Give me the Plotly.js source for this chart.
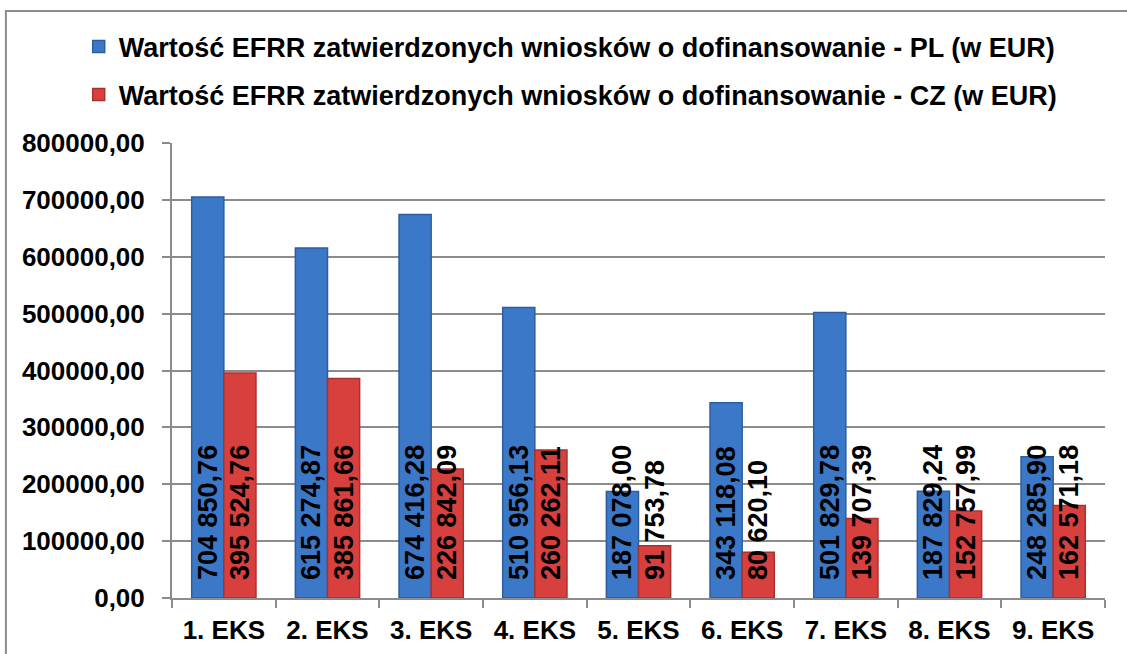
<!DOCTYPE html>
<html>
<head>
<meta charset="utf-8">
<script src="https://cdn.plot.ly/plotly-3.0.1.min.js"></script>
<style>html,body{margin:0;padding:0;background:#fff;} #chart{width:1127px;height:654px;}</style>
</head>
<body>
<div id="chart"></div>
<script>
const categories = ["1. EKS","2. EKS","3. EKS","4. EKS","5. EKS","6. EKS","7. EKS","8. EKS","9. EKS"];
const plValues = [704850.76, 615274.87, 674416.28, 510956.13, 187078.00, 343118.08, 501829.78, 187829.24, 248285.90];
const czValues = [395524.76, 385861.66, 226842.09, 260262.11, 91753.78, 80620.10, 139707.39, 152757.99, 162571.18];
const seriesNames = [
  "Wartość EFRR zatwierdzonych wniosków o dofinansowanie - PL (w EUR)",
  "Wartość EFRR zatwierdzonych wniosków o dofinansowanie - CZ (w EUR)"
];
const yTicks = [0,100000,200000,300000,400000,500000,600000,700000,800000];

const FONT = "Liberation Sans, Arial, sans-serif";
function barTrace(vals, name, color, line, group){
  return {
    type: "bar", x: categories, y: vals, name: name, legendgroup: group,
    marker: {color: color, line: {color: line, width: 1.5}},
    texttemplate: "\u00a0\u00a0%{y:,.2f}", textposition: "inside", insidetextanchor: "start",
    textangle: -90, constraintext: "none",
    textfont: {family: FONT, size: 27, color: "#000", weight: "bold"},
    hoverinfo: "skip"
  };
}
const data = [
  barTrace(plValues, seriesNames[0], "#3C78C8", "#2C5E9E", "g1"),
  barTrace(czValues, seriesNames[1], "#D8403E", "#A83230", "g2")
];
const layout = {
  width: 1127, height: 654,
  margin: {l: 172, r: 22, t: 143, b: 56},
  paper_bgcolor: "#fff", plot_bgcolor: "#fff",
  separators: ", ",
  font: {family: FONT, color: "#000"},
  barmode: "group", bargap: 0.38, bargroupgap: 0,
  showlegend: true,
  legend: {
    orientation: "v", x: -0.1, xanchor: "left", y: 1.265, yanchor: "top",
    font: {family: FONT, size: 27, weight: "bold", color: "#000"},
    tracegroupgap: 10, bgcolor: "rgba(0,0,0,0)"
  },
  xaxis: {
    type: "category", tickson: "boundaries", ticks: "outside", ticklen: 8,
    tickcolor: "#8c8c8c", tickwidth: 2,
    showline: true, linecolor: "#8c8c8c", linewidth: 2,
    ticklabelstandoff: 8,
    tickfont: {family: FONT, size: 26, weight: "bold", color: "#000"},
    showgrid: false
  },
  yaxis: {
    range: [0, 800000], tickvals: yTicks, tickformat: ".2f",
    ticks: "outside", ticklen: 8, tickcolor: "#8c8c8c", tickwidth: 2,
    showline: true, linecolor: "#8c8c8c", linewidth: 2,
    gridcolor: "#8c8c8c", gridwidth: 2, zeroline: false,
    ticklabelstandoff: 12,
    tickfont: {family: FONT, size: 26, weight: "bold", color: "#000"}
  },
  shapes: [{
    type: "rect", xref: "paper", yref: "paper",
    x0: -0.178, x1: 1.2, y0: -0.3, y1: 1.290,
    line: {color: "#8c8c8c", width: 2}, fillcolor: "rgba(0,0,0,0)", layer: "below"
  }]
};
Plotly.newPlot("chart", data, layout, {displayModeBar: false, staticPlot: true});
</script>
</body>
</html>
